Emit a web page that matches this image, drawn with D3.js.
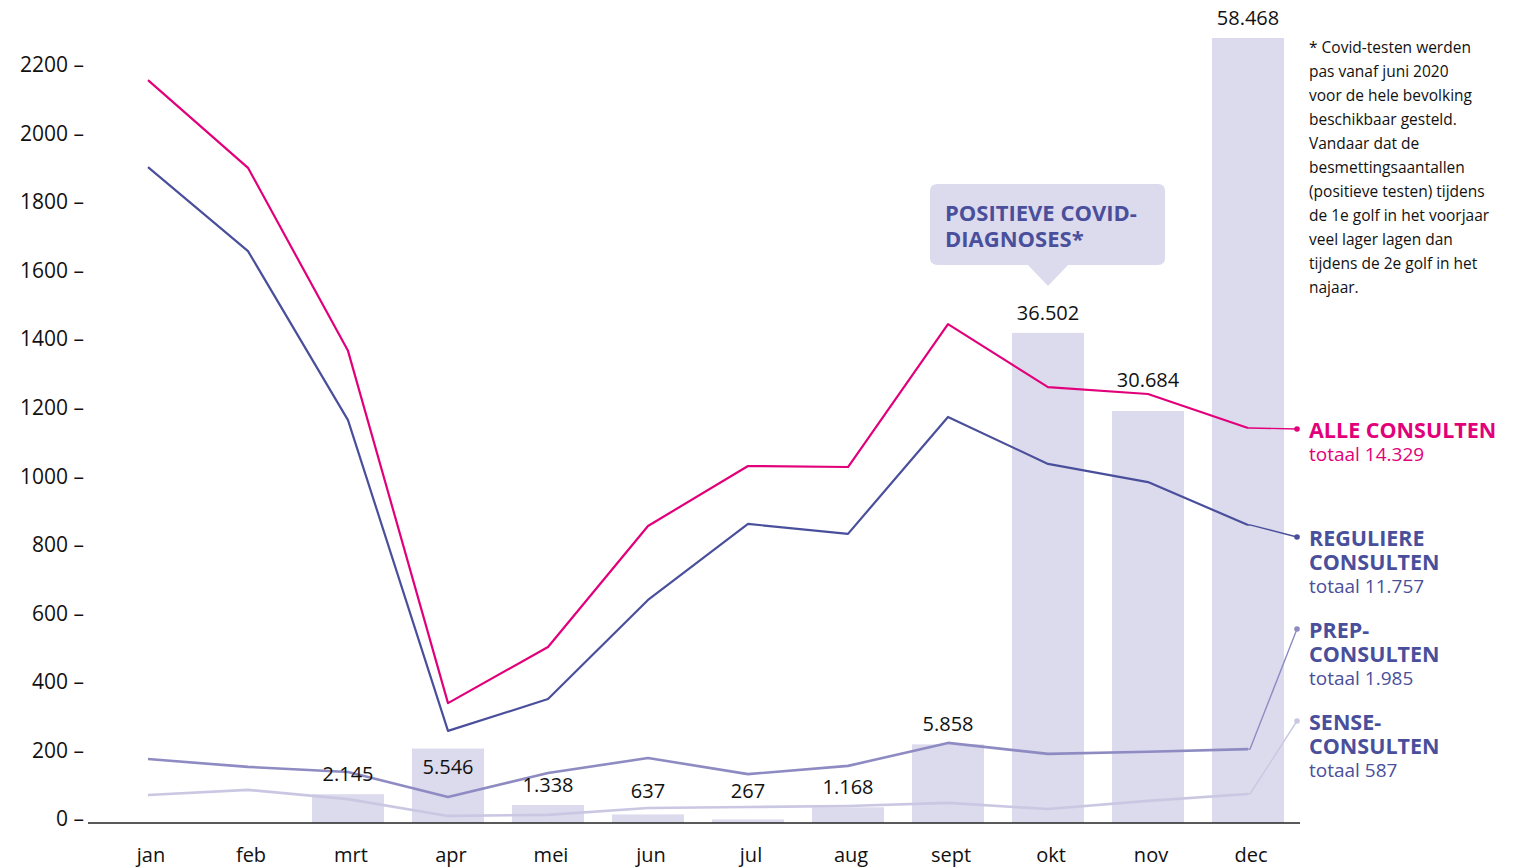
<!DOCTYPE html>
<html><head><meta charset="utf-8">
<script src="https://cdn.jsdelivr.net/npm/d3@7"></script>
<style>
body{margin:0;background:#fff;}
svg text{font-family:"Open Sans","Noto Sans",sans-serif;}
</style></head>
<body><svg id="c" width="1520" height="867"></svg>
<script>
const months = ["jan","feb","mrt","apr","mei","jun","jul","aug","sept","okt","nov","dec"];
const alleConsulten = [2156,1900,1366,338,502,855,1030,1027,1444,1260,1240,1141];
const reguliereConsulten = [1902,1657,1164,257,350,639,861,832,1173,1036,983,858];
const prepConsulten = [175,152,137,64,134,178,131,155,222,190,196,204];
const senseConsulten = [70,85,58,9,12,32,35,38,47,29,53,73];
const covidPositief = [null,null,2145,5546,1338,637,267,1168,5858,36502,30684,58468];
const yTicks = [0,200,400,600,800,1000,1200,1400,1600,1800,2000,2200];
const noteLines = ["* Covid-testen werden","pas vanaf juni 2020","voor de hele bevolking","beschikbaar gesteld.","Vandaar dat de","besmettingsaantallen","(positieve testen) tijdens","de 1e golf in het voorjaar","veel lager lagen dan","tijdens de 2e golf in het","najaar."];
const seriesInfo = [
  {name:["ALLE CONSULTEN"], total:"totaal 14.329", values:alleConsulten, color:"#e2007a", text:"#e2007a", w:2.2, labelY:438},
  {name:["REGULIERE","CONSULTEN"], total:"totaal 11.757", values:reguliereConsulten, color:"#4a4f9b", text:"#4a4f9b", w:2.2, labelY:546},
  {name:["PREP-","CONSULTEN"], total:"totaal 1.985", values:prepConsulten, color:"#8e8bc3", text:"#4a4f9b", w:2.6, labelY:638},
  {name:["SENSE-","CONSULTEN"], total:"totaal 587", values:senseConsulten, color:"#cac7e3", text:"#4a4f9b", w:2.6, labelY:730}
];

const svg = d3.select("#c");
const x = d3.scaleBand().domain(months).range([98,1298]).paddingInner(0.28).paddingOuter(0.14);
const y = d3.scaleLinear().domain([0,2200]).range([819,65]);
const yBar = d3.scaleLinear().domain([0,d3.max(covidPositief)]).range([823,38]);
const cx = m => x(m) + x.bandwidth()/2;

// y axis
const ya = svg.append("g").attr("transform","translate(84,0)")
  .call(d3.axisLeft(y).tickValues(yTicks).tickSize(0).tickPadding(0).tickFormat(d => d + " –"));
ya.select(".domain").remove();
ya.selectAll("text").attr("font-size",21).attr("fill","#111");

// bars
const barData = months.map((m,i)=>({m, i, v:covidPositief[i]})).filter(d=>d.v!=null);
svg.append("g").selectAll("rect").data(barData).join("rect")
  .attr("x",d=>x(d.m)).attr("width",x.bandwidth())
  .attr("y",d=>yBar(d.v)).attr("height",d=>yBar(0)-yBar(d.v))
  .attr("fill","#dcdaed");

// x axis
const xa = svg.append("g").attr("transform","translate(0,823)")
  .call(d3.axisBottom(x).tickSize(0).tickPadding(0));
xa.select(".domain").remove();
xa.append("line").attr("x1",88).attr("x2",1300).attr("y1",0).attr("y2",0).attr("stroke","#222").attr("stroke-width",1.3);
xa.selectAll(".tick text").attr("font-size",20).attr("fill","#111").attr("dy",0).attr("y",39).attr("dx",3);

// lines
const line = d3.line().x((d,i)=>cx(months[i])).y(d=>y(d));
const lastX = cx(months[months.length-1]);
const lg = svg.append("g");
seriesInfo.slice().reverse().forEach(s=>{
  lg.append("path").datum(s.values).attr("d",line).attr("fill","none")
    .attr("stroke",s.color).attr("stroke-width",s.w).attr("stroke-linejoin","round");
  const ly = y(s.values[s.values.length-1]);
  const dotY = s.labelY - 9;
  const dotX = 1297;
  lg.append("path").attr("d",`M${lastX},${ly}L${lastX+2},${ly}L${dotX},${dotY}`)
    .attr("fill","none").attr("stroke",s.color).attr("stroke-width",1.4);
  lg.append("circle").attr("cx",dotX).attr("cy",dotY).attr("r",2.8).attr("fill",s.color);
});

// bar labels (moved above the pink line where it crosses the label)
function labelY(d){
  if (d.m==="apr") return yBar(d.v)+25;
  const top = yBar(d.v);
  let b = Math.min(top-13, 798);
  const ly = y(alleConsulten[d.i]);
  if (ly > top-35 && ly < top+5) b = Math.min(b, ly-7);
  return b;
}
svg.append("g").selectAll("text").data(barData).join("text")
  .attr("x",d=>cx(d.m)).attr("text-anchor","middle").attr("font-size",20).attr("fill","#111")
  .attr("y",labelY)
  .text(d=>d3.format(",")(d.v).replace(/,/g,"."));

// series labels
const sl = svg.append("g");
seriesInfo.forEach(s=>{
  s.name.forEach((n,k)=>{
    sl.append("text").attr("x",1309).attr("y",s.labelY + k*24).attr("font-size",21.5).attr("font-weight",700)
      .attr("fill",s.text).text(n);
  });
  sl.append("text").attr("x",1309).attr("y",s.labelY + s.name.length*24 - 1).attr("font-size",19)
    .attr("fill",s.text).text(s.total);
});

// callout box
const cb = svg.append("g");
cb.append("path").attr("d","M938,184H1158Q1165,184 1165,191V258Q1165,265 1158,265H1068L1048,286L1028,265H938Q930,265 930,258V191Q930,184 938,184Z")
  .attr("fill","#dcdaed");
cb.append("text").attr("x",945).attr("y",221).attr("font-size",22).attr("font-weight",700).attr("fill","#4a4f9b").text("POSITIEVE COVID-");
cb.append("text").attr("x",945).attr("y",247).attr("font-size",22).attr("font-weight",700).attr("fill","#4a4f9b").text("DIAGNOSES*");

// note
svg.append("g").selectAll("text").data(noteLines).join("text")
  .attr("x",1309).attr("y",(d,i)=>53+i*24).attr("font-size",15.5).attr("fill","#111").text(d=>d);
</script></body></html>
